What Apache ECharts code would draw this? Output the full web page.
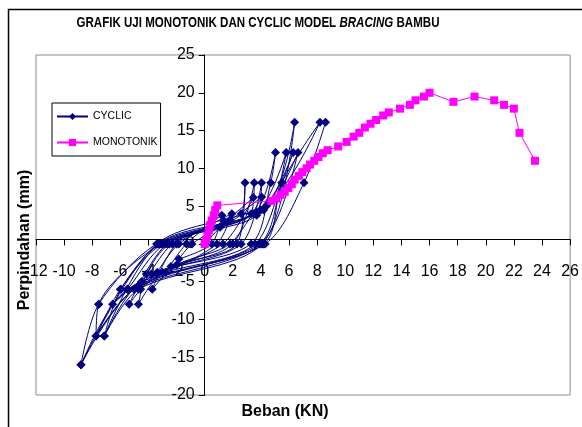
<!DOCTYPE html>
<html>
<head>
<meta charset="utf-8">
<script src="https://cdn.jsdelivr.net/npm/echarts@6/dist/echarts.min.js"></script>
<style>
  html, body { margin: 0; padding: 0; background: #fff; }
  #main { width: 582px; height: 427px; }
</style>
</head>
<body>
<div id="main"></div>
<script>
// cyclic test, load (KN) vs displacement (mm), points in test order
const cyclicLoad = [
  0, 1.1, -0.9, -1.84, 0.5,
  1.22, -1.3, -2.78, 0.87,
  1.93, -1.84, -3.37, 1.3,
  3.46, 1.4, -2.0, -3.73, -2.0, 1.8,
  4.05, 1.8, -2.3, -4.55, -2.4, 2.3,
  2.87, 2.6, -2.5, -4.15, -4.71, -3.0, 2.0,
  3.53, 3.3, -2.66, -5.37, -3.4, 2.6,
  4.05, 3.7, -2.8, -5.5, -6.55, -3.8, 3.3,
  4.7, 5.04, 3.5, -3.0, -5.96, -7.14, -4.5, 3.6,
  5.8, 3.7, -3.1, -7.54, -7.73, -4.7, 3.9,
  5.5, 6.3, 4.0, -3.2, -6.0, -7.73, -5.0, 4.0,
  6.64, 4.2, -3.3, -7.14, -4.7, 4.1,
  6.4, 4.4, -3.4, -7.54, -8.8, -5.5, 4.2,
  5.5, 8.2, 4.6, -3.4, -8.8, -5.0, 4.3,
  7.07, 8.6
];
const cyclicDisp = [
  0, 2.2, 0, -2.0, 0,
  3.8, 0, -3.75, 0,
  4.0, 0, -3.75, 0,
  6.15, 3.0, 0, -6.0, -2.8, 0,
  6.2, 3.2, 0, -6.0, -3.0, 0,
  8.1, 4.0, 0, -4.0, -8.0, -3.75, 0,
  8.1, 4.0, 0, -8.0, -4.0, 0,
  8.1, 3.8, 0, -6.0, -8.0, -4.0, 0,
  8.1, 12.1, 4.0, 0, -6.0, -12.2, -5.0, 0,
  12.1, 4.2, 0, -8.0, -12.2, -5.5, 0,
  8.1, 12.1, 4.5, 0, -6.0, -12.2, -6.0, 0,
  12.1, 4.5, 0, -12.2, -6.0, 0,
  16.1, 5.0, 0, -8.0, -16.0, -6.0, 0,
  8.1, 16.1, 5.5, 0, -16.0, -6.0, 0,
  8.1, 16.1
];

// monotonic test
const monoLoad = [
  0, 0.1, 0.2, 0.3, 0.4, 0.5, 0.65, 0.75, 0.9,
  4.75, 5.1, 5.4, 5.7, 5.95, 6.2, 6.4, 6.7, 6.95, 7.25, 7.5, 7.8, 8.1, 8.4, 8.75,
  9.5, 10.1, 10.6, 11.0, 11.4, 11.8, 12.2, 12.7, 13.1, 13.9, 14.6, 15.0, 15.6, 16.0,
  17.7, 19.2, 20.6, 21.3, 22.0, 22.4, 23.5
];
const monoDisp = [
  0, 0.5, 1.1, 1.8, 2.5, 3.1, 3.8, 4.5, 5.1,
  5.7, 6.0, 6.5, 6.9, 7.4, 7.9, 8.5, 9.0, 9.5, 10.0, 10.5, 11.0, 11.5, 12.0, 12.4,
  12.9, 13.5, 14.2, 14.7, 15.4, 15.9, 16.4, 17.0, 17.4, 17.9, 18.4, 19.0, 19.5, 20.0,
  18.8, 19.5, 19.0, 18.4, 17.9, 14.7, 11.0
];

const zip = (xs, ys) => xs.map((x, i) => [x, ys[i]]);

const chartDom = document.getElementById('main');
const myChart = echarts.init(chartDom);

const GRID = { left: 36, right: 8, top: 55, bottom: 32 };
const FONT = 'Liberation Sans, Arial, sans-serif';
const axisFont = { fontFamily: FONT, fontSize: 16, color: '#000' };

myChart.setOption({
  animation: false,
  backgroundColor: '#fff',
  grid: Object.assign({ show: true, borderColor: '#8c8c8c', borderWidth: 1 }, GRID),
  xAxis: {
    type: 'value', min: -12, max: 26, interval: 2,
    axisLine: { onZero: false, lineStyle: { color: '#000', width: 1 } },
    axisTick: { inside: false, length: 6, lineStyle: { color: '#000' } },
    axisLabel: Object.assign({ margin: 24 }, axisFont),
    splitLine: { show: false }
  },
  yAxis: {
    type: 'value', min: -20, max: 25, interval: 5,
    axisLine: { onZero: false, lineStyle: { color: '#000', width: 1 } },
    axisTick: { inside: false, length: 6, lineStyle: { color: '#000' } },
    axisLabel: Object.assign({ margin: 10 }, axisFont),
    splitLine: { show: false }
  },
  legend: {
    left: 52, top: 103, orient: 'vertical',
    padding: [8, 3, 8, 4], itemGap: 15, itemWidth: 31, itemHeight: 9,
    backgroundColor: '#fff', borderColor: '#000', borderWidth: 1,
    textStyle: { fontFamily: FONT, fontSize: 10.5, color: '#000' },
    data: ['CYCLIC', 'MONOTONIK']
  },
  graphic: [
    {
      type: 'rect', left: 6, top: 7, silent: true,
      shape: { width: 620, height: 460 },
      style: { fill: 'none', stroke: '#000', lineWidth: 1.5 }
    },
    {
      // condensed bold title, as in the Excel original
      type: 'text', x: 258, y: 15, scaleX: 0.77,
      style: {
        text: '{b|GRAFIK UJI MONOTONIK DAN CYCLIC MODEL }{i|BRACING}{b| BAMBU}',
        align: 'center', verticalAlign: 'top',
        rich: {
          b: { font: 'bold 15px ' + FONT, fill: '#000' },
          i: { font: 'italic bold 15px ' + FONT, fill: '#000' }
        }
      }
    },
    {
      type: 'text', x: 285, y: 404,
      style: { text: 'Beban (KN)', font: 'bold 16px ' + FONT, fill: '#000', align: 'center' }
    },
    {
      type: 'text', x: 17, y: 240, rotation: Math.PI / 2,
      style: { text: 'Perpindahan (mm)', font: 'bold 16px ' + FONT, fill: '#000', align: 'center' }
    }
  ],
  series: [
    {
      name: 'CYCLIC', type: 'line',
      data: zip(cyclicLoad, cyclicDisp),
      smooth: 0.3,
      symbol: 'diamond', symbolSize: 9,
      lineStyle: { color: '#000080', width: 1 },
      itemStyle: { color: '#000080' },
      z: 2
    },
    {
      name: 'MONOTONIK', type: 'line',
      data: zip(monoLoad, monoDisp),
      symbol: 'rect', symbolSize: 8,
      lineStyle: { color: '#ff00ff', width: 1 },
      itemStyle: { color: '#ff00ff' },
      z: 3
    }
  ]
});

// move both axes (line, ticks, labels) onto the other axis's zero, like the Excel chart
const zeroX = myChart.convertToPixel({ xAxisIndex: 0 }, 0);
const zeroY = myChart.convertToPixel({ yAxisIndex: 0 }, 0);
const gridBottomPx = myChart.getHeight() - GRID.bottom;
myChart.setOption({
  xAxis: { offset: -(gridBottomPx - zeroY) },
  yAxis: { offset: -(zeroX - GRID.left) }
});
</script>
</body>
</html>
